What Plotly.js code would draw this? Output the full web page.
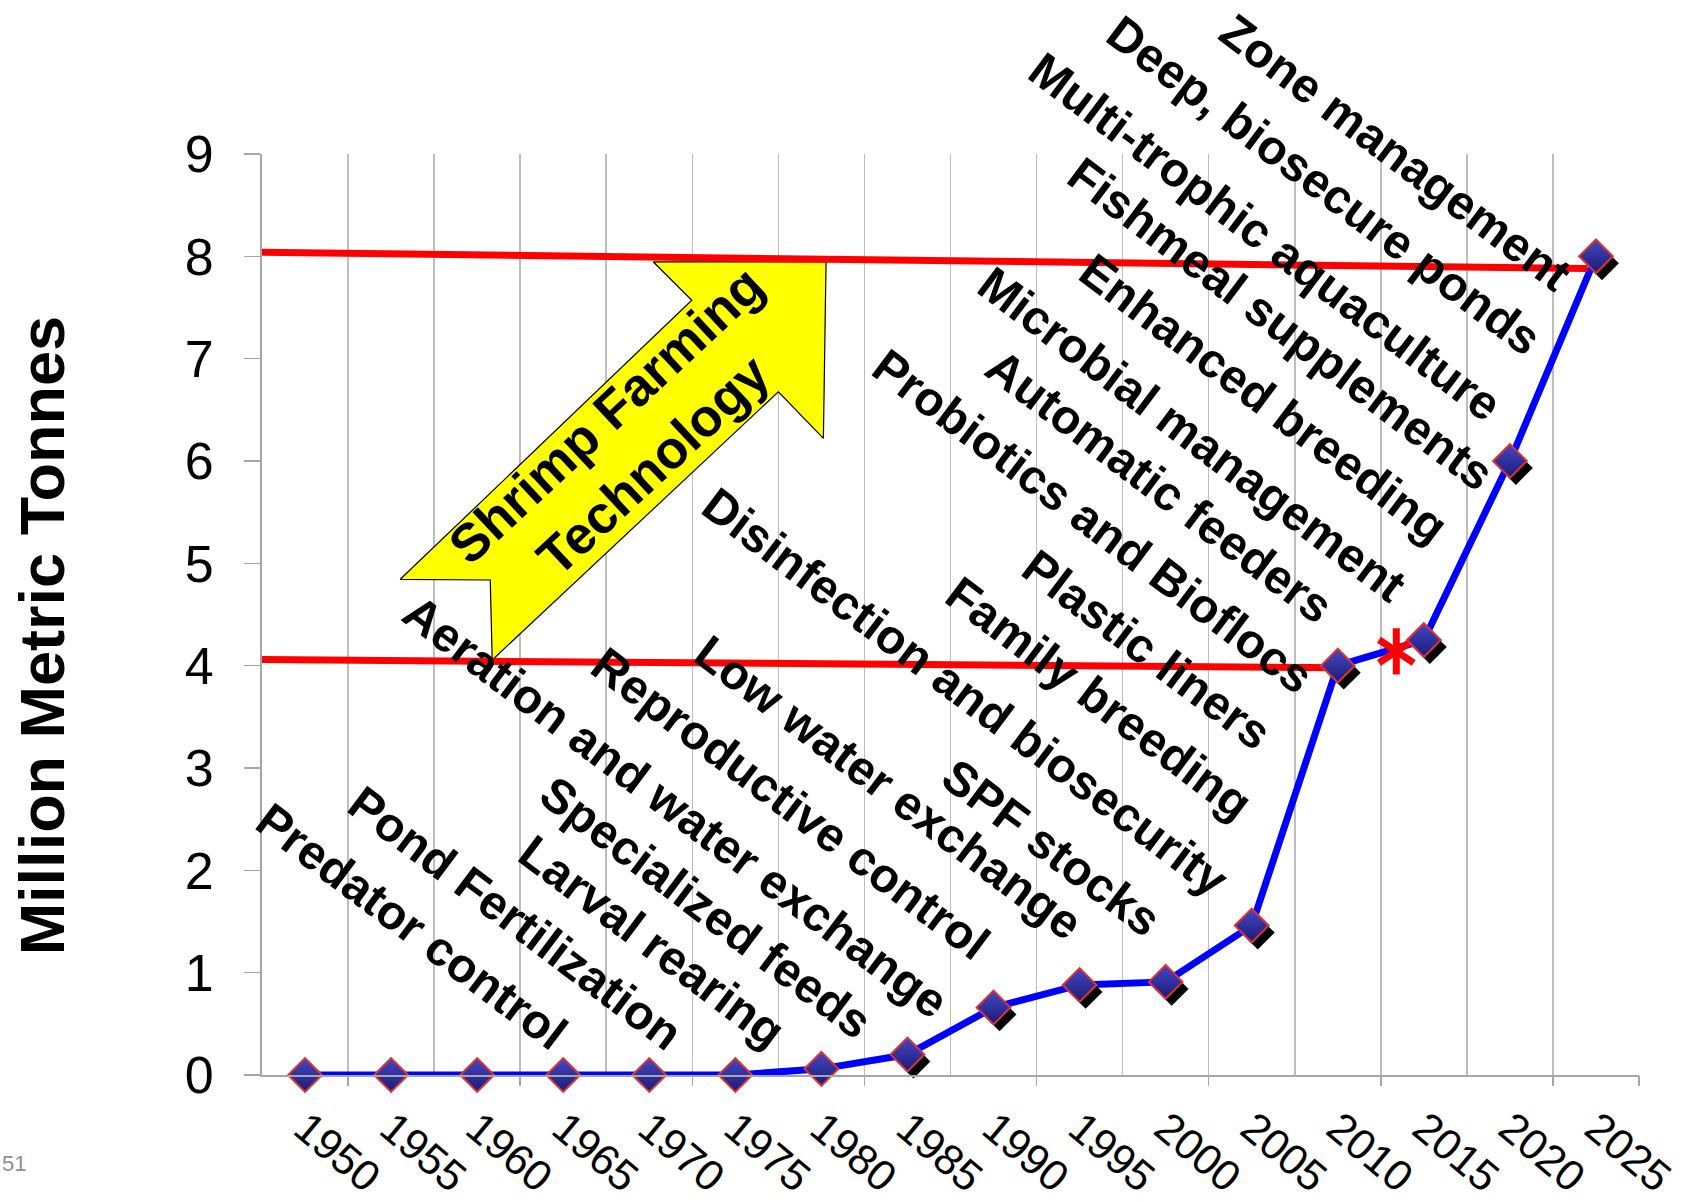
<!DOCTYPE html>
<html>
<head>
<meta charset="utf-8">
<script src="https://cdn.plot.ly/plotly-3.0.1.min.js"></script>
<style>
  html, body { margin: 0; padding: 0; background: #ffffff; }
  #chart { width: 1704px; height: 1202px; }
</style>
</head>
<body>
<div id="chart"></div>
<script>
// Global farmed shrimp production, million metric tonnes
const years = ['1950', '1955', '1960', '1965', '1970', '1975', '1980', '1985',
               '1990', '1995', '2000', '2005', '2010', '2015', '2020', '2025'];
const production = [0, 0, 0, 0, 0, 0, 0.06, 0.2, 0.66, 0.88, 0.91, 1.46, 4.0, 4.25, 6.0, 8.0];

// Current production marker (between the 2010 and 2015 categories)
const currentX = [12.68];
const currentY = [4.14];

// Reference levels: roughly 4 million tonnes now, 8 million tonnes target
const lowerLevelX = [-0.54, 12.08];
const lowerLevelY = [4.06, 3.98];
const upperLevelX = [-0.54, 14.9];
const upperLevelY = [8.04, 7.88];

// Technology milestones, written diagonally across the chart
const techLabels = [
  'Predator control', 'Pond Fertilization', 'Larval rearing', 'Specialized feeds',
  'Aeration and water exchange', 'Reproductive control', 'Low water exchange',
  'SPF stocks', 'Disinfection and biosecurity', 'Family breeding', 'Plastic liners',
  'Probiotics and Bioflocs', 'Automatic feeders', 'Microbial management',
  'Enhanced breeding', 'Fishmeal supplements', 'Multi-trophic aquaculture',
  'Deep, biosecure ponds', 'Zone management'
];
// label centres in category units (x) and tonnes (y)
const techX = [1.24, 2.45, 4.03, 4.66, 4.30, 5.64, 6.78, 8.67, 7.68, 9.23, 9.78,
               9.16, 9.93, 10.31, 11.14, 11.33, 11.15, 11.84, 12.67];
const techY = [1.45, 1.53, 1.30, 1.64, 2.62, 2.65, 2.81, 2.22, 3.74, 3.68, 4.16,
               5.41, 5.75, 6.26, 6.61, 7.34, 8.19, 8.69, 9.01];

// Outline of the "Shrimp Farming Technology" arrow (category units, tonnes)
const arrowX = [6.054, 6.023, 5.500, 2.175, 2.152, 1.106, 4.494, 4.048, 6.054];
const arrowY = [7.945, 6.221, 6.676, 4.056, 4.837, 4.844, 7.571, 7.945, 7.945];
const arrowTextX = 3.77;
const arrowTextY = 6.21;

const FONT = '"Liberation Sans", Arial, Helvetica, sans-serif';
const Y_MAX = 9;
const idx = years.map((_, i) => i);
const boundaries = years.map((_, i) => i - 0.5).concat([years.length - 0.5]);
const oddBoundaries = boundaries.filter((_, i) => i % 2 === 1).concat([years.length - 0.5]);

// category / tonne positions to paper fractions
const toPaperX = v => (v + 0.5) / years.length;
const toPaperY = v => v / Y_MAX;

// pixel offset of the marker shadow, expressed in axis units
const plotW = 1704 - 262 - 65, plotH = 1202 - 154 - 127;
const shadowDx = 6 * years.length / plotW;
const shadowDy = 7 * Y_MAX / plotH;

const traces = [
  {
    type: 'scatter', mode: 'lines', x: arrowX, y: arrowY,
    fill: 'toself', fillcolor: '#ffff00',
    line: { color: '#000000', width: 1.2 },
    hoverinfo: 'skip', showlegend: false
  },
  {
    type: 'scatter', mode: 'lines', x: idx, y: production,
    line: { color: '#0000ff', width: 7 },
    hoverinfo: 'skip', showlegend: false
  },
  {
    type: 'scatter', mode: 'lines', x: upperLevelX, y: upperLevelY,
    line: { color: '#ff0000', width: 7 }, cliponaxis: false,
    hoverinfo: 'skip', showlegend: false
  },
  {
    type: 'scatter', mode: 'lines', x: lowerLevelX, y: lowerLevelY,
    line: { color: '#ff0000', width: 7 }, cliponaxis: false,
    hoverinfo: 'skip', showlegend: false
  },
  // marker shadows
  {
    type: 'scatter', mode: 'markers', x: idx, y: production,
    xaxis: 'x2', yaxis: 'y2', cliponaxis: false,
    marker: { symbol: 'diamond', size: 26, color: '#000000', line: { width: 0 } },
    hoverinfo: 'skip', showlegend: false
  },
  // current production asterisk
  {
    type: 'scatter', mode: 'markers', x: currentX, y: currentY,
    xaxis: 'x3', yaxis: 'y3', cliponaxis: false,
    marker: { symbol: 'y-up-open', size: 29, color: '#ff0000', line: { color: '#ff0000', width: 7 } },
    hoverinfo: 'skip', showlegend: false
  },
  {
    type: 'scatter', mode: 'markers', x: currentX, y: currentY,
    xaxis: 'x3', yaxis: 'y3', cliponaxis: false,
    marker: { symbol: 'y-down-open', size: 29, color: '#ff0000', line: { color: '#ff0000', width: 7 } },
    hoverinfo: 'skip', showlegend: false
  },
  // production markers
  {
    type: 'scatter', mode: 'markers', x: idx, y: production,
    xaxis: 'x3', yaxis: 'y3', cliponaxis: false,
    marker: {
      symbol: 'diamond', size: 26, color: '#4747c4',
      gradient: { type: 'vertical', color: '#1a1a78' },
      line: { color: '#dd3333', width: 2 }
    },
    hoverinfo: 'skip', showlegend: false
  }
];

const annotations = techLabels.map((t, i) => ({
  text: '<b>' + t + '</b>', x: toPaperX(techX[i]), y: toPaperY(techY[i]),
  xref: 'paper', yref: 'paper',
  showarrow: false, textangle: 37, xanchor: 'center', yanchor: 'middle',
  font: { family: FONT, size: 48, color: '#000000' }
}));

annotations.push({
  text: '<b>Shrimp Farming<br>Technology</b>', x: toPaperX(arrowTextX), y: toPaperY(arrowTextY),
  xref: 'paper', yref: 'paper', showarrow: false, textangle: -43,
  xanchor: 'center', yanchor: 'middle',
  font: { family: FONT, size: 53, color: '#000000' }
});

annotations.push({
  text: '<b>Million Metric Tonnes</b>', x: -0.16, y: 0.477, xref: 'paper', yref: 'paper',
  showarrow: false, textangle: -90, xanchor: 'center', yanchor: 'middle',
  font: { family: FONT, size: 63, color: '#000000' }
});

// page number in the lower-left corner
annotations.push({
  text: '51', x: -0.19, y: -0.096, xref: 'paper', yref: 'paper',
  showarrow: false, xanchor: 'left', yanchor: 'middle',
  font: { family: FONT, size: 22, color: '#8f8f8f' }
});

const layout = {
  width: 1704, height: 1202,
  margin: { l: 262, r: 65, t: 154, b: 127, pad: 0 },
  paper_bgcolor: '#ffffff', plot_bgcolor: '#ffffff',
  showlegend: false, hovermode: false,
  font: { family: FONT, color: '#000000' },
  xaxis: {
    type: 'linear', range: [-0.5, years.length - 0.5],
    tickmode: 'array', tickvals: idx, ticktext: years,
    tickangle: 40, tickfont: { size: 43, color: '#000000' },
    ticks: '', ticklabelstandoff: 9,
    showgrid: false, zeroline: false,
    showline: true, linecolor: '#a6a6a6', linewidth: 2,
    minor: { tickmode: 'array', tickvals: boundaries, showgrid: true,
             gridcolor: '#bdbdbd', gridwidth: 1.6, ticks: '' },
    fixedrange: true
  },
  yaxis: {
    type: 'linear', range: [0, Y_MAX], tickmode: 'linear', tick0: 0, dtick: 1,
    tickfont: { size: 52, color: '#000000' },
    ticks: 'outside', ticklen: 16, tickwidth: 1.5, tickcolor: '#a6a6a6',
    ticklabelstandoff: 20,
    showgrid: false, zeroline: false,
    showline: true, linecolor: '#a6a6a6', linewidth: 2,
    fixedrange: true
  },
  xaxis2: { overlaying: 'x', range: [-0.5 - shadowDx, years.length - 0.5 - shadowDx], visible: false },
  yaxis2: { overlaying: 'y', range: [0 + shadowDy, Y_MAX + shadowDy], visible: false },
  xaxis3: {
    overlaying: 'x', range: [-0.5, years.length - 0.5], anchor: 'y3', side: 'bottom',
    tickmode: 'array', tickvals: oddBoundaries, ticks: 'outside', ticklen: 10,
    tickwidth: 1.5, tickcolor: '#a6a6a6', showticklabels: false,
    showgrid: false, zeroline: false, showline: false
  },
  yaxis3: { overlaying: 'y', range: [0, Y_MAX], visible: false },
  annotations: annotations
};

Plotly.newPlot('chart', traces, layout, { displayModeBar: false, staticPlot: true });
</script>
</body>
</html>
